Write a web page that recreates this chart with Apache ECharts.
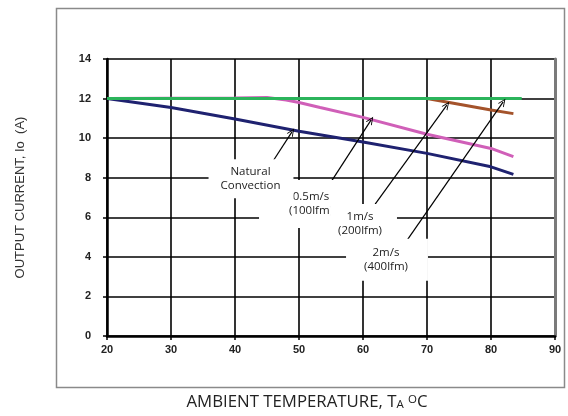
<!DOCTYPE html>
<html>
<head>
<meta charset="utf-8">
<script src="https://cdn.jsdelivr.net/npm/echarts@6/dist/echarts.min.js"></script>
<style>html,body{margin:0;padding:0;background:#fff}#c{width:568px;height:416px}</style>
</head>
<body>
<div id="c"></div>
<script>
// ---- data ----
var xTicks = [20, 30, 40, 50, 60, 70, 80, 90];
var yTicks = [0, 2, 4, 6, 8, 10, 12, 14];

var natT = [20, 30, 40, 50, 60, 70, 80, 83.5];
var natI = [12, 11.55, 10.97, 10.35, 9.8, 9.23, 8.55, 8.17];

var p05T = [20, 40, 45, 48, 50, 53.3, 60, 70, 80, 83.5];
var p05I = [12, 12.03, 12.05, 11.93, 11.8, 11.55, 11.05, 10.2, 9.48, 9.07];

var p1T = [70, 80, 83.5];
var p1I = [12, 11.42, 11.24];

var p2T = [20, 84.8];
var p2I = [12, 12];

// annotation labels (drawn in this order; later ones on top)
var labelTexts = ['0.5m/s\n(100lfm)', 'Natural\nConvection', '1m/s\n(200lfm)', '2m/s\n(400lfm)'];
var labelX = [50.78, 42.5, 60.08, 63.75];
var labelY = [6.67, 7.95, 5.66, 3.86];
var labelPad = [[5, 16, 15, 30], [6, 13, 5, 12], [8, 15, 4, 8], [7, 20, 7, 18]];

var arrowFromX = [45.7, 54.5, 61.9, 66.6];
var arrowFromY = [8.72, 7.54, 6.67, 4.71];
var arrowToX = [48.9, 61.25, 73.1, 81.9];
var arrowToY = [10.32, 10.91, 11.67, 11.83];

function pairs(xs, ys) { return xs.map(function (x, i) { return [x, ys[i]]; }); }

var arrowData = arrowFromX.map(function (x, i) {
  return [{ coord: [x, arrowFromY[i]] }, { coord: [arrowToX[i], arrowToY[i]] }];
});
var labelData = labelTexts.map(function (t, i) {
  return { value: [labelX[i], labelY[i]], label: { formatter: t, padding: labelPad[i] } };
});

var chevron = 'path://M0,10 L5,0 L10,10 L8.6,10 L5,2.6 L1.4,10 Z';

var chart = echarts.init(document.getElementById('c'), null, { renderer: 'canvas' });
chart.setOption({
  animation: false,
  backgroundColor: '#fff',
  graphic: [{
    type: 'rect', left: 54, top: 6, z: -10,
    shape: { width: 508, height: 379 },
    style: { fill: 'none', stroke: '#8a8a8a', lineWidth: 1.5 }
  }],
  grid: { left: 107, right: 13, top: 59, bottom: 80, containLabel: false },
  xAxis: {
    type: 'value', min: 20, max: 90, interval: 10,
    name: 'AMBIENT TEMPERATURE, T{s|A} {o|O}C',
    nameLocation: 'middle', nameGap: 58,
    nameTextStyle: {
      fontFamily: 'Open Sans', fontSize: 16.8, color: '#222', padding: [0, 48, 0, 0],
      rich: { s: { fontFamily: 'Open Sans', fontSize: 11.5, color: '#222', padding: [5, 0, 0, 0] },
              o: { fontFamily: 'Open Sans', fontSize: 11.5, color: '#222', padding: [0, 0, 5, 0] } }
    },
    axisLine: { show: true, onZero: false, lineStyle: { color: '#000', width: 2.5 } },
    axisTick: { show: true, length: 4, lineStyle: { color: '#000', width: 1.5 } },
    axisLabel: { margin: 8, fontFamily: 'Liberation Sans', fontWeight: 'bold', fontSize: 11, color: '#222',
                 formatter: function (v) { return xTicks.indexOf(v) >= 0 ? String(v) : ''; } },
    splitLine: { show: true, lineStyle: { color: '#000', width: 1.6 } }
  },
  yAxis: [{
    type: 'value', min: 0, max: 14, interval: 2,
    name: 'OUTPUT CURRENT, Io  (A)',
    nameLocation: 'middle', nameGap: 80, nameRotate: 90,
    nameTextStyle: { fontFamily: 'Liberation Sans', fontSize: 13, color: '#333' },
    axisLine: { show: true, onZero: false, lineStyle: { color: '#000', width: 2.5 } },
    axisTick: { show: true, length: 4, lineStyle: { color: '#000', width: 1.5 } },
    axisLabel: { margin: 16, fontFamily: 'Liberation Sans', fontWeight: 'bold', fontSize: 11, color: '#222',
                 formatter: function (v) { return yTicks.indexOf(v) >= 0 ? String(v) : ''; } },
    splitLine: { show: true, lineStyle: { color: '#000', width: 1.6 } }
  }, {
    type: 'value', min: 0, max: 14, interval: 2, position: 'right',
    axisLine: { show: true, onZero: false, lineStyle: { color: '#7a7a7a', width: 3 } },
    axisTick: { show: false }, axisLabel: { show: false }, splitLine: { show: false }
  }],
  series: [
    { type: 'line', data: pairs(natT, natI), showSymbol: false, smooth: false,
      lineStyle: { color: '#1f2270', width: 3 }, z: 3 },
    { type: 'line', data: pairs(p05T, p05I), showSymbol: false,
      lineStyle: { color: '#d05fb8', width: 3 }, z: 3 },
    { type: 'line', data: pairs(p1T, p1I), showSymbol: false,
      lineStyle: { color: '#a4532b', width: 3 }, z: 3 },
    { type: 'line', data: pairs(p2T, p2I), showSymbol: false,
      lineStyle: { color: '#2bb45b', width: 3 }, z: 4 },
    { type: 'line', data: [], z: 5,
      markLine: { silent: true, symbol: ['none', chevron], symbolSize: [7, 8],
        label: { show: false },
        lineStyle: { color: '#000', width: 1.2, type: 'solid', opacity: 1 },
        data: arrowData } },
    { type: 'scatter', data: labelData, symbolSize: 0, z: 6, silent: true,
      itemStyle: { opacity: 1 },
      label: { show: true, position: 'inside', fontFamily: 'Open Sans', fontSize: 11.5, color: '#222',
               opacity: 1, lineHeight: 14, align: 'center', backgroundColor: '#fff' } }
  ]
});
</script>
</body>
</html>
